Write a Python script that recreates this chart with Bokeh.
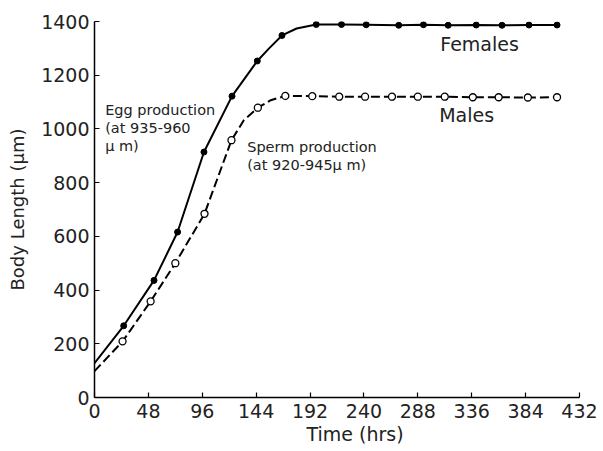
from bokeh.plotting import figure
from bokeh.models import Range1d, Label, FixedTicker, Title
from bokeh.embed import file_html
from bokeh.resources import INLINE

# ---- data ----
x_ticks = [0, 48, 96, 144, 192, 240, 288, 336, 384, 432]
y_ticks = [0, 200, 400, 600, 800, 1000, 1200, 1400]

female_t = [26, 53, 74, 97.5, 122.5, 145, 167, 197.5, 220, 242, 271, 293, 315, 340, 363, 387, 412]
female_len = [267, 436, 616, 914, 1122, 1253, 1348, 1389, 1389, 1388, 1386, 1388, 1386, 1387, 1386, 1387, 1387]

male_t = [25, 50, 72, 98, 122, 145.5, 170, 194, 218, 241, 265, 288, 312, 337, 360, 386, 412]
male_len = [209, 358, 500, 684, 958, 1079, 1123, 1122, 1120, 1120, 1120, 1120, 1120, 1118, 1118, 1117, 1118]

# fitted curves (they start at t=0, no marker there)
female_curve_t = [0, 26, 53, 74, 97.5, 122.5, 145, 155.5, 167, 180, 197.5, 220, 242, 271, 293, 315, 340, 363, 387, 412]
female_curve_len = [128, 267, 436, 616, 914, 1122, 1253, 1300, 1348, 1374, 1389, 1389, 1388, 1386, 1388, 1386, 1387, 1386, 1387, 1387]

male_curve_t = [0, 25, 50, 72, 98, 122, 133, 145.5, 157, 170, 194, 218, 241, 265, 288, 312, 337, 360, 386, 412]
male_curve_len = [98, 209, 358, 500, 684, 958, 1032, 1079, 1107, 1123, 1122, 1120, 1120, 1120, 1120, 1120, 1118, 1118, 1117, 1118]

FONT = "DejaVu Sans"
INK = "#222222"

p = figure(width=603, height=451,
           x_range=Range1d(0, 432), y_range=Range1d(0, 1400),
           output_backend="svg", toolbar_location=None,
           min_border_left=94, min_border_right=24,
           min_border_top=21, min_border_bottom=54)
p.outline_line_color = None
p.xgrid.visible = False
p.ygrid.visible = False
p.background_fill_color = "white"
p.border_fill_color = "white"

for ax in (p.xaxis[0], p.yaxis[0]):
    ax.axis_line_color = "black"
    ax.axis_line_width = 1.5
    ax.major_tick_line_color = "black"
    ax.major_tick_line_width = 1.2
    ax.major_tick_in = 5
    ax.major_tick_out = 0
    ax.minor_tick_line_color = None
    ax.major_label_text_font = FONT
    ax.major_label_text_font_size = "19px"
    ax.major_label_text_color = INK

p.xaxis.ticker = FixedTicker(ticks=x_ticks)
p.yaxis.ticker = FixedTicker(ticks=y_ticks)
p.xaxis.major_label_standoff = 6
p.yaxis.major_label_standoff = 5

p.yaxis.axis_label = "Body Length (\u03bcm)"
p.yaxis.axis_label_text_font = FONT
p.yaxis.axis_label_text_font_size = "18px"
p.yaxis.axis_label_text_font_style = "normal"
p.yaxis.axis_label_text_color = INK
p.yaxis.axis_label_standoff = 10

# x-axis title, placed under the axis and shifted right as in the reference
p.add_layout(Title(text="Time (hrs)", align="left", offset=212, standoff=0,
                   text_font=FONT, text_font_size="19px", text_font_style="normal",
                   text_color=INK), "below")

p.line(female_curve_t, female_curve_len, line_color="black", line_width=2)
p.line(male_curve_t, male_curve_len, line_color="black", line_width=2, line_dash="9 4")
p.scatter(female_t, female_len, size=6, fill_color="black", line_color="black")
p.scatter(male_t, male_len, size=7, fill_color="white", line_color="black", line_width=1.3)

def lab(x, y, t, size):
    p.add_layout(Label(x=x, y=y, text=t, text_font=FONT, text_font_size=size,
                       text_color=INK, text_align="left", text_baseline="middle"))

lab(308, 1317, "Females", "19px")
lab(307, 1051, "Males", "19px")
lab(9.5, 1069, "Egg production", "14.5px")
lab(9.5, 1002, "(at 935-960", "14.5px")
lab(9.5, 935, "\u03bc m)", "14.5px")
lab(136, 931, "Sperm production", "14.5px")
lab(136, 864, "(at 920-945\u03bc m)", "14.5px")

open("out.html", "w").write(file_html(p, INLINE))
